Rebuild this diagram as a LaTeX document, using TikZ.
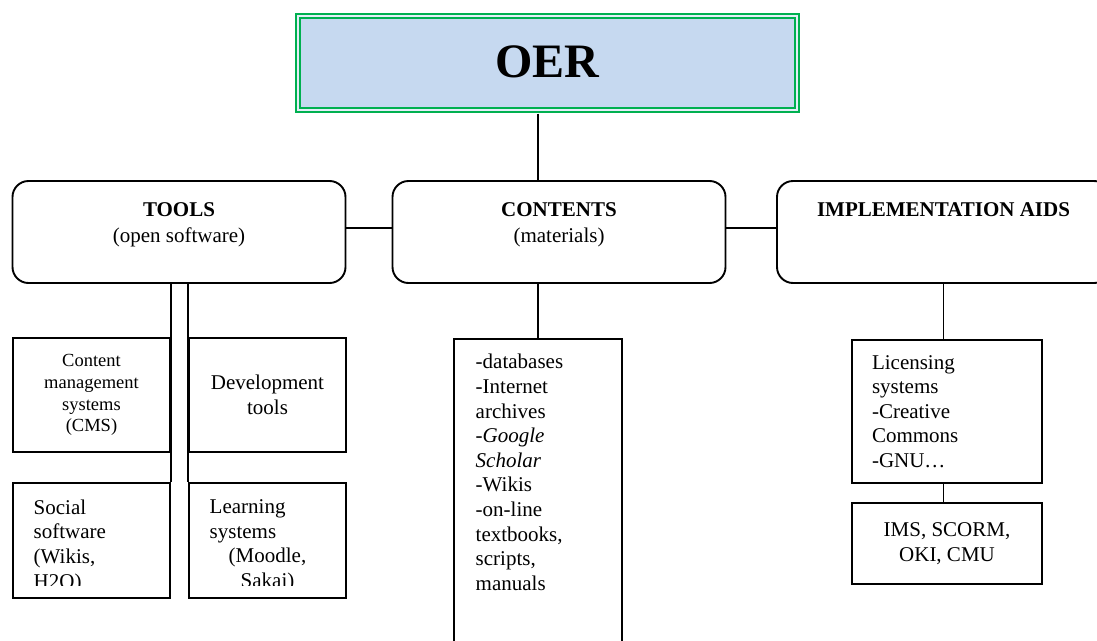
\documentclass[tikz,border=0pt]{standalone}
\usepackage{fontspec}
\setmainfont{Liberation Serif}
\definecolor{oerfill}{HTML}{C6D9F0}
\definecolor{oergreen}{HTML}{00B050}
\begin{document}
\begin{tikzpicture}[x=1pt, y=-1pt, line width=1.4pt, top style/.style={draw=oergreen, line width=1.7pt, double=oerfill!45!white, double distance=2.3pt, fill=oerfill, minimum width=499pt, minimum height=94pt, inner sep=0pt, font=\fontsize{48}{50}\selectfont\bfseries}, head style/.style={draw, rectangle, rounded corners=16pt, line width=1.9pt, minimum width=333pt, minimum height=102pt, inner sep=0pt}, box style/.style={draw, rectangle, line width=1.9pt, inner sep=0pt, font=\fontsize{21}{24.6}\selectfont}, text style/.style={inner sep=0pt, align=left, font=\fontsize{21}{24.6}\selectfont}]
	\useasboundingbox (0,0) rectangle (1097,640);
	\clip (0,0) rectangle (1097,640);
	\node[top style] (OER) at (547.25, 62.75) {\raisebox{3pt}{OER}};
	\node[head style] (T1) at (179, 232) {};
	\node[head style] (T2) at (559, 232) {};
	\node[head style] (T3) at (943.5, 232) {};
	\node[text style, align=center, font=\fontsize{21}{26}\selectfont] (L1) at (179, 225) {\textbf{TOOLS}\\(open software)};
	\node[text style, align=center, font=\fontsize{21}{26}\selectfont] (L2) at (559, 225) {\textbf{CONTENTS}\\(materials)};
	\node[text style, align=center] (L3) at (943.5, 210) {\textbf{IMPLEMENTATION AIDS}};
	\node[box style, minimum width=157pt, minimum height=114pt, align=center, font=\fontsize{18.5}{21.7}\selectfont] (B1) at (91.5, 395) {Content\\management\\systems\\(CMS)};
	\node[box style, minimum width=157pt, minimum height=114pt, align=center] (B2) at (267.5, 395) {Development\\tools};
	\node[box style, minimum width=157pt, minimum height=115pt] (B3) at (91.5, 540.5) {};
	\node[box style, minimum width=157pt, minimum height=115pt] (B4) at (267.5, 540.5) {};
	\node[box style, minimum width=168pt, minimum height=330pt, anchor=north] (Clist) at (538, 338) {};
	\node[box style, minimum width=190pt, minimum height=143pt, inner xsep=20pt, text width=150pt, align=left] (B5) at (947, 411.5) {Licensing\\systems\\-Creative\\Commons\\-GNU…};
	\node[box style, minimum width=190pt, minimum height=81pt, align=center] (B6) at (947, 543.5) {IMS, SCORM,\\OKI, CMU};
	\node[text style, anchor=north west] (C1) at (475, 353.7) {-databases\\-Internet\\archives\\\textit{-Google}\\\textit{Scholar}\\-Wikis\\-on-line\\textbooks,\\scripts,\\manuals};
	\begin{scope}
		\clip (13,483) rectangle (346,585);
		\node[text style, anchor=north west] (S1) at (33, 499) {Social\\software\\(Wikis,\\H2O)};
		\node[text style, anchor=north west] (S2) at (209, 499) {Learning\\systems\\\hspace*{19pt}(Moodle,\\\hspace*{31pt}Sakai)};
	\end{scope}
	\draw[shorten <=3pt] (OER.south -| Clist.north) -- (T2.north -| Clist.north);
	\draw ([yshift=4pt]T1.east) -- ([yshift=4pt]T2.west);
	\draw ([yshift=4pt]T2.east) -- ([yshift=4pt]T3.west);
	\draw (T1.south -| B3.north east) -- (B3.north east);
	\draw (T1.south -| B4.north west) -- (B4.north west);
	\draw (Clist.north |- T2.south) -- (Clist.north);
	\draw (T3.south) -- (T3.south |- B5.north);
	\draw (B5.south -| T3.south) -- (B6.north -| T3.south);
\end{tikzpicture}
\end{document}
